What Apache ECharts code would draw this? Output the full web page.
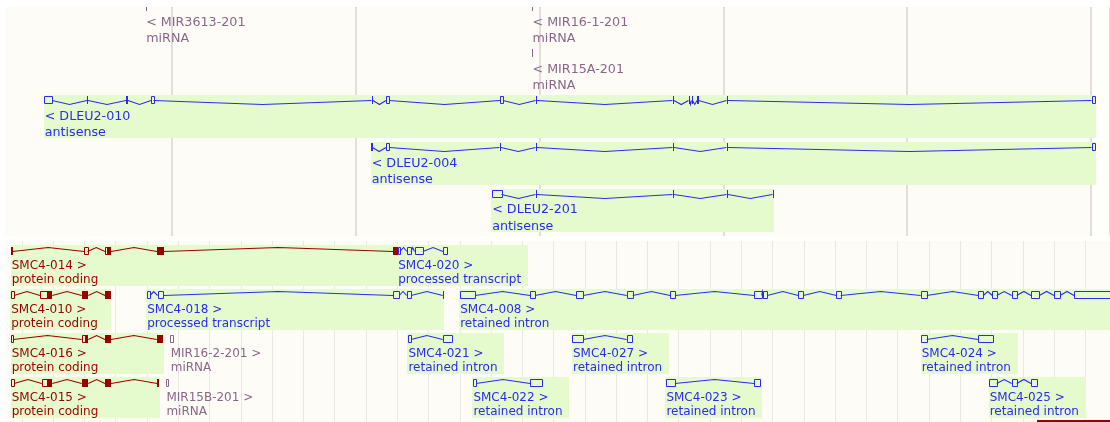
<!DOCTYPE html>
<html>
<head>
<meta charset="utf-8">
<script src="https://cdn.jsdelivr.net/npm/echarts@6/dist/echarts.min.js"></script>
<style>
html, body { margin: 0; padding: 0; background: #fff; }
#chart { width: 1110px; height: 422px; }
</style>
</head>
<body>
<div id="chart"></div>
<script>
// transcripts (x in screen-genome units)
var names = ['MIR3613-201', 'MIR16-1-201', 'MIR15A-201', 'DLEU2-010', 'DLEU2-004', 'DLEU2-201',
  'SMC4-014', 'SMC4-020', 'SMC4-010', 'SMC4-018', 'SMC4-008', 'SMC4-016', 'MIR16-2-201',
  'SMC4-021', 'SMC4-027', 'SMC4-024', 'SMC4-015', 'MIR15B-201', 'SMC4-022', 'SMC4-023', 'SMC4-025', ''];
var biotypes = ['miRNA', 'miRNA', 'miRNA', 'antisense', 'antisense', 'antisense',
  'protein coding', 'processed transcript', 'protein coding', 'processed transcript', 'retained intron',
  'protein coding', 'miRNA', 'retained intron', 'retained intron', 'retained intron',
  'protein coding', 'miRNA', 'retained intron', 'retained intron', 'retained intron', 'protein coding'];
var strands = [-1, -1, -1, -1, -1, -1, 1, 1, 1, 1, 1, 1, 1, 1, 1, 1, 1, 1, 1, 1, 1, 1];
var tracks = [0, 0, 0, 0, 0, 0, 1, 1, 1, 1, 1, 1, 1, 1, 1, 1, 1, 1, 1, 1, 1, 1];
var lanes = [0, 0, 1, 2, 3, 4, 0, 0, 1, 1, 1, 2, 2, 2, 2, 2, 3, 3, 3, 3, 3, 3.94];
// exons: [start, end, coding]
var exons = [
  [[145.5, 146.5, 1]],
  [[531.8, 532.8, 1]],
  [[531.8, 532.8, 1]],
  [[44, 52, 0], [87, 88, 1], [126, 128, 1], [151, 153.5, 0], [371.5, 373, 1], [386, 389, 0], [500, 503, 0],
   [535.5, 537, 1], [672.5, 674, 1], [688.5, 689.5, 1], [691.5, 692.5, 1], [697, 698.5, 1], [726.5, 728, 1], [1091.5, 1095, 0]],
  [[371, 372.5, 1], [386, 389, 0], [499.5, 501, 1], [535.5, 537, 1], [672.5, 674, 1], [726.5, 728, 1], [1091.5, 1095, 0]],
  [[491.5, 501.5, 0], [535.5, 537, 1], [672.5, 674, 1], [726.5, 728, 1], [772.5, 774, 1]],
  [[11, 12.5, 1], [84, 87.5, 0], [105, 107, 0], [107, 111, 1], [157, 163.5, 1], [393, 397.5, 1]],
  [[397.5, 400, 0], [407, 411, 0], [414.5, 423, 0], [443, 447, 0]],
  [[10.5, 14, 0], [40, 46.7, 0], [46.7, 52.3, 1], [81.7, 88.3, 1], [105, 111, 1]],
  [[146.5, 150, 0], [157.5, 163.3, 0], [393.3, 399.3, 0], [406.7, 411, 0], [442.7, 444.3, 1]],
  [[459.5, 475, 0], [530, 535, 0], [576, 583.3, 0], [626.7, 632.7, 0], [670, 675, 0], [754, 761.7, 0],
   [763.3, 767.3, 0], [798.3, 803.3, 0], [836.3, 840.7, 0], [920.7, 926.7, 0], [978.3, 983.3, 0],
   [992.3, 996.7, 0], [1011.7, 1016.7, 0], [1031, 1039.3, 0], [1054, 1060, 0], [1074, 1118, 0]],
  [[11, 13.3, 0], [81.7, 85, 0], [85, 88.3, 1], [105, 111, 1], [156.7, 163.3, 1]],
  [[170, 172.7, 0]],
  [[407.7, 411, 0], [442.7, 452.3, 0]],
  [[572.3, 583.3, 0], [626.7, 632.3, 0]],
  [[921, 926.7, 0], [978.3, 992.7, 0]],
  [[11, 14, 0], [41.7, 46.7, 0], [46.7, 52.3, 1], [81.7, 88.3, 1], [105, 111, 1], [157.3, 159, 1]],
  [[165.7, 168.3, 0]],
  [[472.7, 476, 0], [530, 541.7, 0]],
  [[665.7, 675, 0], [754, 760, 0]],
  [[989, 996.7, 0], [1011.7, 1016.7, 0], [1031, 1036.7, 0]],
  [[1037, 1118, 1]]
];
// scale bar ticks of the two panels
var topTickStep = 183.8;
var bottomTickStep = 31.277;

var colors = {
  'protein coding': '#990000',
  'processed transcript': '#2b2bef',
  'retained intron': '#2b2bef',
  'antisense': '#2b2bef',
  'miRNA': '#8b668b'
};
var layout = [
  { y0: 6.5, pitch: 46.9, t1: 16, t2: 32.3, bt: 5.3, bb: 37.4, font: '12.7px "DejaVu Sans"' },
  { y0: 250.6, pitch: 44, t1: 14.8, t2: 29.6, bt: 5.3, bb: 35.3, font: '12px "DejaVu Sans"' }
];
var ctx = document.createElement('canvas').getContext('2d');
function tw(s, font) { ctx.font = font; return ctx.measureText(s).width; }

function labelOf(i) {
  return strands[i] < 0 ? '< ' + names[i] : names[i] + ' >';
}
function laneY(i) {
  var L = layout[tracks[i]];
  return L.y0 + L.pitch * lanes[i];
}

function renderBox(params, api) {
  var i = api.value(0);
  if (!names[i] || biotypes[i] == 'miRNA') return null;
  var L = layout[tracks[i]];
  var ex = exons[i];
  var s = ex[0][0], e = ex[ex.length - 1][1];
  var yc = laneY(i);
  var textEnd = s + 0.7 + Math.max(tw(labelOf(i), L.font), tw(biotypes[i], L.font)) + 6.5;
  e = Math.max(e, textEnd);
  var p0 = api.coord([s - 0.5, yc - L.bt]);
  var p1 = api.coord([e, yc + L.bb]);
  return {
    type: 'rect',
    shape: { x: Math.round(p0[0]), y: Math.round(p0[1]), width: Math.round(p1[0] - p0[0]), height: Math.round(p1[1] - p0[1]) },
    style: { fill: '#e6fbcd' }
  };
}

function renderTranscript(params, api) {
  var i = api.value(0);
  var L = layout[tracks[i]];
  var color = colors[biotypes[i]];
  var ex = exons[i];
  var yc = laneY(i);
  var children = [];
  for (var k = 0; k < ex.length; k++) {
    var a = api.coord([ex[k][0], yc - 4]);
    var b = api.coord([ex[k][1], yc + 4]);
    var x0 = Math.round(a[0]), x1 = Math.round(b[0]), top = Math.round(a[1]);
    if (ex[k][2]) {
      children.push({ type: 'rect', shape: { x: x0, y: top, width: Math.max(1, x1 - x0), height: 8 },
        style: { fill: color } });
    } else {
      children.push({ type: 'rect', shape: { x: x0 + 0.5, y: top + 0.5, width: Math.max(1, x1 - x0), height: 7 },
        style: { fill: null, stroke: color, lineWidth: 1 } });
    }
    if (k < ex.length - 1 && ex[k + 1][0] > ex[k][1] + 0.5) {
      var q0 = api.coord([ex[k][1], yc]);
      var q1 = api.coord([(ex[k][1] + ex[k + 1][0]) / 2, yc - 4 * strands[i]]);
      var q2 = api.coord([ex[k + 1][0], yc]);
      var ly = Math.round(q0[1]) + 0.5;
      children.push({ type: 'polyline',
        shape: { points: [[q0[0], ly], [q1[0], ly - 4 * strands[i]], [q2[0], ly]] },
        style: { fill: null, stroke: color, lineWidth: 1.1 } });
    }
  }
  if (names[i]) {
    var t = api.coord([ex[0][0] + 0.7, yc]);
    children.push({ type: 'text', style: { text: labelOf(i), x: t[0], y: t[1] + L.t1, font: L.font, fill: color, align: 'left', verticalAlign: 'middle' } });
    children.push({ type: 'text', style: { text: biotypes[i], x: t[0], y: t[1] + L.t2, font: L.font, fill: color, align: 'left', verticalAlign: 'middle' } });
  }
  return { type: 'group', children: children };
}

var topIdx = [], bottomIdx = [];
names.forEach(function (n, i) {
  (tracks[i] == 0 ? topIdx : bottomIdx).push([i]);
});

var hidden = { show: false };
var chart = echarts.init(document.getElementById('chart'), null, { renderer: 'canvas' });
var option = {
  animation: false,
  backgroundColor: '#ffffff',
  graphic: [
    { type: 'rect', z: -10, silent: true, shape: { x: 5, y: 7, width: 1088, height: 229 }, style: { fill: '#fdfcf6' } },
    { type: 'rect', z: -10, silent: true, shape: { x: 1093, y: 7, width: 17, height: 229 }, style: { fill: '#fefefb' } },
    { type: 'rect', z: -10, silent: true, shape: { x: 5, y: 241, width: 1105, height: 181 }, style: { fill: '#fdfcf6' } }
  ],
  grid: [
    { left: 0, right: 0, top: 7, bottom: 186 },
    { left: 172, right: 0, top: 7, bottom: 186 },
    { left: 0, right: 0, top: 241, bottom: 0 },
    { left: 21.9, right: 0, top: 241, bottom: 0 }
  ],
  xAxis: [
    { type: 'value', gridIndex: 0, min: 0, max: 1110, show: false },
    { type: 'value', gridIndex: 1, min: 0, max: 938, interval: topTickStep,
      axisLine: hidden, axisTick: hidden, axisLabel: hidden,
      splitLine: { show: true, showMinLine: true, lineStyle: { color: '#d8d6d1', width: 1.5 } } },
    { type: 'value', gridIndex: 2, min: 0, max: 1110, show: false },
    { type: 'value', gridIndex: 3, min: 0, max: 1088.1, interval: bottomTickStep,
      axisLine: hidden, axisTick: hidden, axisLabel: hidden,
      splitLine: { show: true, showMinLine: true, lineStyle: { color: '#eae8e3', width: 1 } } }
  ],
  yAxis: [
    { type: 'value', gridIndex: 0, min: 7, max: 236, inverse: true, show: false },
    { type: 'value', gridIndex: 1, min: 0, max: 1, show: false },
    { type: 'value', gridIndex: 2, min: 241, max: 422, inverse: true, show: false },
    { type: 'value', gridIndex: 3, min: 0, max: 1, show: false }
  ],
  series: [
    { type: 'custom', name: 'boxes top', xAxisIndex: 0, yAxisIndex: 0, clip: true, silent: true,
      renderItem: renderBox, data: topIdx, z: 2 },
    { type: 'custom', name: 'boxes bottom', xAxisIndex: 2, yAxisIndex: 2, clip: true, silent: true,
      renderItem: renderBox, data: bottomIdx, z: 2 },
    { type: 'custom', name: 'transcripts top', xAxisIndex: 0, yAxisIndex: 0, clip: true, silent: true,
      renderItem: renderTranscript, data: topIdx, z: 3 },
    { type: 'custom', name: 'transcripts bottom', xAxisIndex: 2, yAxisIndex: 2, clip: true, silent: true,
      renderItem: renderTranscript, data: bottomIdx, z: 3 }
  ]
};
chart.setOption(option);
</script>
</body>
</html>
